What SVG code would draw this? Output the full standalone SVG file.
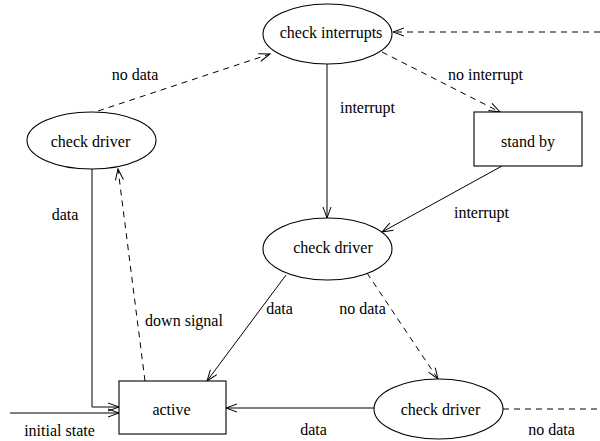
<svg xmlns="http://www.w3.org/2000/svg" width="600" height="441" viewBox="0 0 600 441">
<defs>
<marker id="arr" markerUnits="userSpaceOnUse" markerWidth="14" markerHeight="10" refX="11" refY="4" orient="auto" overflow="visible">
<path d="M0,0 L11,4 L0,8" fill="none" stroke="#000" stroke-width="1"/>
</marker>
<style>
.n{fill:#fff;stroke:#000;stroke-width:1.1}
.t{font-family:"Liberation Serif","Times New Roman",serif;font-size:16px;fill:#000;text-anchor:middle}
.c{fill:none;stroke:#000;stroke-width:1}
.d{stroke-dasharray:6,5}
.a{marker-end:url(#arr)}
</style>
</defs>
<rect width="600" height="441" fill="#fff"/>
<g id="connectors">
<path class="c d a" d="M98,111 L270,54"/>
<path class="c d a" d="M382,52 L500,112"/>
<path class="c d a" d="M600,32 L393,32"/>
<path class="c a" d="M327,64 L327,218"/>
<path class="c a" d="M502,166 L382,232"/>
<path class="c a" d="M286,275 L207,381"/>
<path class="c d a" d="M367,273 L438,379"/>
<path class="c d" d="M503,409 L600,409"/>
<path class="c a" d="M374,408 L226,408"/>
<path class="c a" d="M92,169 L92,407 L119,407"/>
<path class="c a" d="M10,413 L119,413"/>
<path class="c d a" d="M145,381 L118,169"/>
<text class="t" x="135" y="80">no data</text>
<text class="t" x="485.5" y="80">no interrupt</text>
<text class="t" x="367.5" y="113">interrupt</text>
<text class="t" x="481.5" y="218">interrupt</text>
<text class="t" x="65" y="220">data</text>
<text class="t" x="184" y="326">down signal</text>
<text class="t" x="279.5" y="314">data</text>
<text class="t" x="362.5" y="314">no data</text>
<text class="t" x="313.5" y="435">data</text>
<text class="t" x="551.5" y="435">no data</text>
<text class="t" x="59.5" y="436">initial state</text>
</g>
<g id="check-interrupts">
<ellipse class="n" cx="327.5" cy="34" rx="64.5" ry="30"/>
<text class="t" x="331" y="38">check interrupts</text>
</g>
<g id="check-driver-left">
<ellipse class="n" cx="91.5" cy="140.5" rx="64.5" ry="28.5"/>
<text class="t" x="90.5" y="147">check driver</text>
</g>
<g id="stand-by">
<rect class="n" x="474" y="112" width="108" height="54"/>
<text class="t" x="528" y="147">stand by</text>
</g>
<g id="check-driver-mid">
<ellipse class="n" cx="327.5" cy="249" rx="64.5" ry="31"/>
<text class="t" x="333" y="253">check driver</text>
</g>
<g id="active">
<rect class="n" x="119" y="381" width="107" height="53"/>
<text class="t" x="171.5" y="415">active</text>
</g>
<g id="check-driver-bottom">
<ellipse class="n" cx="438.5" cy="409" rx="64.5" ry="30"/>
<text class="t" x="440.5" y="415">check driver</text>
</g>
</svg>
